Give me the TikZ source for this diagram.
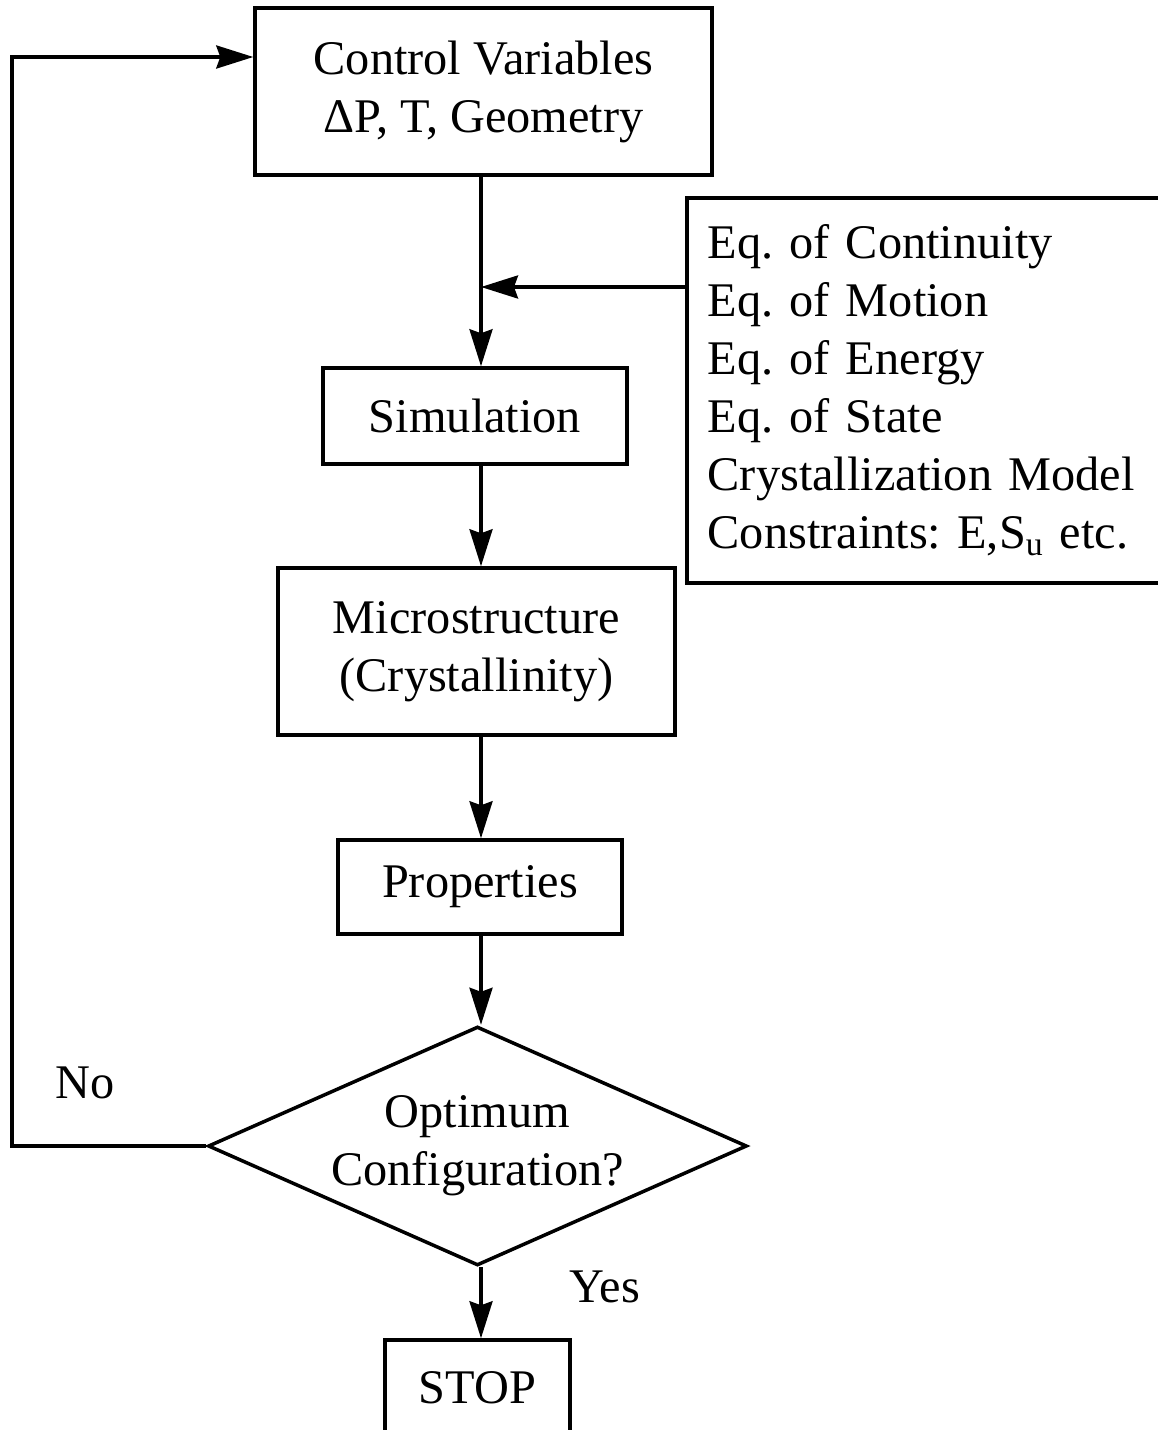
\documentclass[tikz,border=0pt]{standalone}
\usepackage{fontspec}
\setmainfont{Liberation Serif}
\usepackage{tikz}
\usetikzlibrary{shapes,arrows,positioning,calc,arrows.meta}
\frenchspacing

\begin{document}
\begin{tikzpicture}[x=0.02cm, y=-0.02cm,
    every node/.style={font=\fontsize{27.5}{33}\selectfont},
    box/.style={draw, line width=2pt, align=center, inner sep=0pt},
    arr/.style={line width=2pt, -{Stealth[length=0.74cm, width=0.46cm, inset=0.08cm]}}]
    \useasboundingbox (0,0) rectangle (1158,1430);

    % Main chain
    \node[box, minimum width=9.14cm, minimum height=3.34cm] (ctrl) at (483.5,91.5) {Control Variables\\ΔP, T, Geometry};
    \node[box, minimum width=6.08cm, minimum height=1.92cm] (sim) at (475,416) {Simulation};
    \node[box, minimum width=7.94cm, minimum height=3.34cm] (micro) at (476.5,651.5) {Microstructure\\(Crystallinity)};
    \node[box, minimum width=5.68cm, minimum height=1.88cm] (prop) at (480,887) {Properties};
    \node[box, diamond, shape aspect=2.255, minimum width=10.78cm, minimum height=4.78cm] (opt) at (477.5,1146) {Optimum\\Configuration?};
    \node[box, minimum width=3.7cm, minimum height=1.92cm] (stop) at (477.5,1388) {STOP};

    % Governing equations
    \node[box, anchor=west, align=left, text width=8.8cm, inner xsep=0.42cm, minimum height=7.7cm] (eqs) at (685,390.5)
        {Eq. of Continuity\\Eq. of Motion\\Eq. of Energy\\Eq. of State\\Crystallization Model\\Constraints: E,S\textsubscript{u} etc.};

    % Labels
    \node (no) at (85,1083) {No};
    \node (yes) at (605,1287) {Yes};

    % Connectors
    \coordinate (merge) at (481,287);
    \coordinate (back) at (12,57);
    \draw[arr] (ctrl.south -| merge) -- (sim.north -| merge);
    \draw[arr] (eqs.west |- merge) -- (merge);
    \draw[arr] (sim.south -| merge) -- (micro.north -| merge);
    \draw[arr] (micro.south -| merge) -- (prop.north -| merge);
    \draw[arr] (prop.south -| merge) -- (opt.north -| merge);
    \draw[arr] (opt.south -| merge) -- (stop.north -| merge);
    \draw[arr] (opt.west) -| (back) -- (back -| ctrl.west);
\end{tikzpicture}
\end{document}
